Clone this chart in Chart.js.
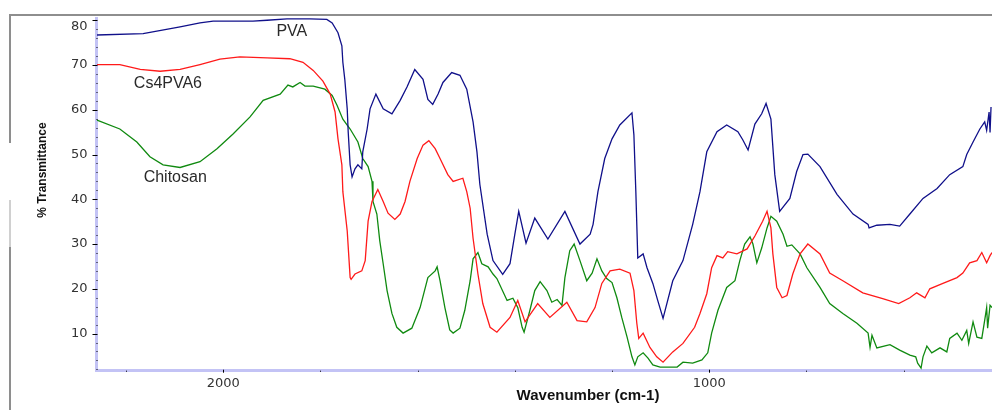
<!DOCTYPE html>
<html>
<head>
<meta charset="utf-8">
<title>FTIR spectra</title>
<style>
  html, body { margin: 0; padding: 0; background: #fff; }
  canvas { display: block; }
</style>
</head>
<body>
<canvas id="myChart" width="992" height="410"></canvas>
<script src="https://cdn.jsdelivr.net/npm/chart.js@4.4.1/dist/chart.umd.min.js"></script>
<script>
// wavenumber (cm-1) / % transmittance
const pvaWn = [2260, 2165, 2089, 2048, 2021, 1939, 1910, 1869, 1822, 1787, 1776, 1764, 1756, 1754, 1750, 1745, 1743, 1739, 1735, 1729, 1723, 1715, 1713, 1704, 1698, 1686, 1671, 1653, 1636, 1622, 1606, 1589, 1579, 1569, 1558, 1548, 1530, 1513, 1499, 1486, 1478, 1472, 1457, 1445, 1425, 1410, 1400, 1392, 1377, 1359, 1332, 1297, 1266, 1245, 1239, 1229, 1215, 1200, 1184, 1159, 1155, 1151, 1147, 1136, 1128, 1116, 1106, 1095, 1075, 1054, 1034, 1019, 1005, 984, 964, 941, 931, 920, 906, 892, 883, 873, 865, 855, 834, 820, 807, 797, 772, 737, 704, 673, 671, 655, 628, 608, 587, 560, 531, 505, 478, 470, 457, 443, 433, 429, 424, 422, 420];
const pvaT = [76.7, 77.0, 78.5, 79.4, 79.8, 79.8, 80.0, 80.3, 80.3, 80.2, 79.4, 77.2, 74.3, 70.6, 66.8, 60.2, 55.1, 47.7, 45.0, 46.8, 47.7, 46.8, 50.6, 55.7, 60.2, 63.5, 60.2, 59.1, 62.1, 65.1, 69.0, 66.8, 62.3, 61.2, 63.5, 66.1, 68.3, 67.7, 64.6, 57.3, 50.6, 43.3, 32.2, 26.3, 23.2, 25.6, 32.2, 37.3, 30.2, 35.8, 31.1, 37.3, 30.0, 32.2, 34.4, 41.7, 49.1, 53.5, 56.6, 59.3, 54.4, 41.7, 26.9, 27.8, 24.7, 21.2, 17.4, 13.4, 21.8, 26.3, 34.4, 41.7, 50.6, 55.1, 56.6, 55.1, 53.3, 51.0, 56.8, 59.1, 61.4, 57.9, 45.5, 37.3, 40.2, 46.2, 50.0, 50.1, 47.3, 41.1, 36.7, 34.4, 33.6, 34.2, 34.4, 34.0, 36.7, 40.2, 42.4, 45.5, 47.3, 50.0, 52.8, 55.7, 57.3, 55.4, 59.5, 54.9, 60.6];

const blendWn = [2260, 2213, 2171, 2130, 2089, 2048, 2007, 1966, 1910, 1863, 1836, 1815, 1795, 1780, 1770, 1764, 1756, 1754, 1745, 1739, 1737, 1729, 1715, 1708, 1702, 1694, 1682, 1671, 1661, 1647, 1636, 1626, 1616, 1601, 1589, 1577, 1564, 1554, 1538, 1527, 1507, 1499, 1492, 1486, 1476, 1466, 1451, 1437, 1410, 1394, 1379, 1353, 1328, 1293, 1272, 1252, 1235, 1221, 1204, 1184, 1163, 1155, 1149, 1145, 1136, 1122, 1108, 1095, 1075, 1054, 1030, 1019, 1005, 995, 984, 972, 962, 943, 922, 906, 890, 881, 873, 869, 861, 850, 840, 828, 813, 797, 772, 752, 725, 684, 643, 610, 587, 573, 556, 546, 519, 490, 478, 464, 449, 439, 429, 422, 418];
const blendT = [70.1, 70.1, 69.0, 68.6, 69.0, 70.1, 71.3, 71.8, 71.6, 71.4, 70.6, 68.8, 66.4, 63.5, 59.5, 53.5, 47.7, 41.7, 32.9, 22.5, 22.1, 23.3, 24.0, 26.3, 35.1, 39.5, 42.2, 39.5, 36.9, 35.5, 36.7, 39.5, 44.0, 49.1, 52.1, 53.1, 51.3, 49.1, 45.5, 44.0, 44.7, 41.7, 38.0, 31.3, 23.3, 16.7, 11.4, 10.3, 13.6, 17.4, 12.6, 16.7, 13.6, 17.0, 12.9, 12.6, 15.8, 21.2, 24.0, 24.4, 23.5, 19.6, 12.3, 8.9, 10.1, 6.9, 4.8, 3.6, 5.9, 7.8, 11.4, 14.5, 18.9, 24.7, 27.4, 26.9, 28.3, 27.8, 28.9, 31.8, 35.1, 37.3, 33.6, 27.8, 20.3, 18.0, 18.5, 23.3, 27.8, 30.0, 27.8, 23.5, 21.8, 19.1, 17.8, 16.7, 18.0, 19.1, 18.0, 20.0, 21.2, 22.5, 23.5, 25.8, 26.3, 28.1, 25.8, 27.4, 28.1];

const chitosanWn = [2260, 2213, 2178, 2151, 2124, 2089, 2048, 2013, 1980, 1945, 1918, 1883, 1867, 1857, 1842, 1832, 1815, 1791, 1776, 1766, 1754, 1739, 1723, 1713, 1702, 1694, 1692, 1684, 1678, 1671, 1663, 1653, 1643, 1630, 1612, 1595, 1579, 1564, 1560, 1554, 1544, 1534, 1527, 1513, 1503, 1492, 1486, 1476, 1468, 1455, 1445, 1437, 1416, 1404, 1394, 1385, 1381, 1369, 1359, 1348, 1334, 1324, 1313, 1303, 1297, 1287, 1278, 1266, 1252, 1241, 1231, 1221, 1211, 1200, 1190, 1180, 1169, 1159, 1153, 1147, 1136, 1126, 1116, 1101, 1066, 1054, 1034, 1015, 1003, 995, 982, 964, 947, 937, 927, 916, 910, 902, 892, 881, 873, 861, 848, 840, 830, 813, 799, 772, 752, 725, 696, 673, 669, 665, 655, 628, 608, 587, 575, 571, 564, 560, 552, 542, 525, 511, 505, 490, 480, 470, 466, 457, 449, 439, 433, 429, 427, 422, 418];
const chitosanT = [57.7, 55.7, 52.8, 49.5, 47.7, 47.1, 48.4, 51.3, 54.6, 58.4, 62.1, 63.5, 65.5, 65.1, 66.1, 65.3, 65.3, 64.6, 63.2, 61.0, 57.9, 55.7, 52.8, 49.1, 47.3, 44.0, 39.5, 36.7, 30.7, 25.6, 19.6, 14.5, 11.4, 10.1, 11.2, 15.8, 22.5, 24.0, 24.9, 21.8, 15.8, 10.8, 10.1, 11.2, 15.2, 21.8, 26.7, 28.1, 25.6, 24.9, 23.3, 22.3, 17.4, 17.9, 15.8, 11.4, 10.3, 15.2, 19.6, 21.6, 19.6, 17.0, 17.6, 16.3, 22.5, 28.5, 30.0, 26.3, 21.8, 23.5, 26.7, 24.0, 22.3, 21.4, 18.0, 13.6, 9.2, 4.8, 3.0, 4.8, 5.7, 4.5, 3.0, 2.5, 2.5, 3.6, 3.4, 4.1, 5.7, 10.1, 15.2, 20.3, 21.8, 26.3, 30.0, 31.6, 30.0, 25.8, 29.1, 33.6, 36.2, 35.1, 32.2, 29.5, 29.8, 27.8, 24.7, 20.3, 16.7, 14.5, 12.3, 10.1, 6.9, 9.6, 6.8, 7.5, 6.3, 5.2, 4.8, 3.4, 2.3, 4.8, 7.2, 5.7, 6.8, 5.9, 8.9, 10.1, 8.5, 10.7, 7.8, 12.6, 9.2, 8.9, 13.0, 15.8, 11.2, 16.3, 15.8];

const seriesNames = ['PVA', 'Cs4PVA6', 'Chitosan'];
const seriesColors = ['#10108a', '#ff1a1a', '#108a10'];
// where each curve name sits, in wavenumber / %T
const nameWn = [1859, 2114, 2099];
const nameT = [77.4, 65.9, 44.9];

const xLabelled = [2000, 1000];

function pairs(wn, t) {
  return wn.map((w, i) => ({ x: w, y: t[i] }));
}

const axisDecor = {
  id: 'axisDecor',
  afterDraw(chart) {
    const { ctx, chartArea, scales } = chart;
    const xs = scales.x, ys = scales.y;
    ctx.save();

    // window frame
    ctx.strokeStyle = '#8e8e8e';
    ctx.lineWidth = 2;
    ctx.beginPath();
    ctx.moveTo(9, 15); ctx.lineTo(992, 15);
    ctx.moveTo(10, 15); ctx.lineTo(10, 143);
    ctx.moveTo(10, 247); ctx.lineTo(10, 410);
    ctx.stroke();
    ctx.strokeStyle = '#d0d0d0';
    ctx.beginPath();
    ctx.moveTo(10, 200); ctx.lineTo(10, 247);
    ctx.stroke();

    // tick marks sitting on the axis lines
    ctx.fillStyle = '#000';
    ys.ticks.forEach(t => {
      const py = Math.round(ys.getPixelForValue(t.value));
      if (t.value % 10 === 0) ctx.fillRect(chartArea.left - 4, py, 5, 1);
      else ctx.fillRect(chartArea.left, py, 1, 1);
    });
    xs.ticks.forEach(t => {
      const px = Math.round(xs.getPixelForValue(t.value));
      if (xLabelled.includes(t.value)) ctx.fillRect(px, chartArea.bottom - 1, 1, 3);
      else ctx.fillRect(px, chartArea.bottom, 1, 1);
    });

    // curve names
    ctx.font = '16px "Liberation Sans", Arial, sans-serif';
    ctx.fillStyle = '#2a2a2a';
    ctx.textAlign = 'center';
    ctx.textBaseline = 'middle';
    seriesNames.forEach((n, i) => {
      ctx.fillText(n, xs.getPixelForValue(nameWn[i]), ys.getPixelForValue(nameT[i]));
    });

    // axis titles
    ctx.fillStyle = '#111';
    ctx.font = 'bold 15px "Liberation Sans", Arial, sans-serif';
    ctx.fillText('Wavenumber (cm-1)', 588, 396);
    ctx.translate(43, 170);
    ctx.rotate(-Math.PI / 2);
    ctx.font = 'bold 12px "Liberation Sans", Arial, sans-serif';
    ctx.fillText('% Transmittance', 0, 0);
    ctx.restore();
  }
};

const ctx = document.getElementById('myChart');

const myChart = new Chart(ctx, {
  type: 'line',
  data: {
    datasets: [
      { label: seriesNames[0], data: pairs(pvaWn, pvaT), borderColor: seriesColors[0] },
      { label: seriesNames[1], data: pairs(blendWn, blendT), borderColor: seriesColors[1] },
      { label: seriesNames[2], data: pairs(chitosanWn, chitosanT), borderColor: seriesColors[2] }
    ]
  },
  options: {
    responsive: false,
    animation: false,
    layout: { padding: { top: 15, left: 0, right: 0, bottom: 0 } },
    elements: {
      point: { radius: 0 },
      line: { borderWidth: 1.3, tension: 0, fill: false }
    },
    plugins: {
      legend: { display: false },
      tooltip: { enabled: false }
    },
    scales: {
      x: {
        type: 'linear',
        reverse: true,
        min: 418,
        max: 2261,
        border: { color: '#c3c3f5', width: 3 },
        grid: { drawOnChartArea: false, tickLength: 2, tickColor: 'rgba(0,0,0,0)' },
        ticks: {
          stepSize: 200,
          includeBounds: false,
          autoSkip: false,
          maxRotation: 0,
          padding: 3,
          color: '#333',
          font: { family: 'DejaVu Sans', size: 13 },
          callback: v => xLabelled.includes(v) ? String(v) : ''
        },
        afterFit: s => { s.height = 39.3; }
      },
      y: {
        min: 1.7,
        max: 80.5,
        border: { color: '#c3c3f5', width: 3 },
        grid: { drawOnChartArea: false, tickLength: 4, tickColor: 'rgba(0,0,0,0)' },
        ticks: {
          stepSize: 2,
          includeBounds: false,
          autoSkip: false,
          padding: 5,
          color: '#333',
          font: { family: 'DejaVu Sans', size: 13, lineHeight: 1 },
          callback: v => {
            if (v % 10 !== 0) return '';
            return v === 80 ? ['', '80'] : String(v);
          }
        },
        afterFit: s => { s.width = 96.5; }
      }
    }
  },
  plugins: [axisDecor]
});
</script>
</body>
</html>
